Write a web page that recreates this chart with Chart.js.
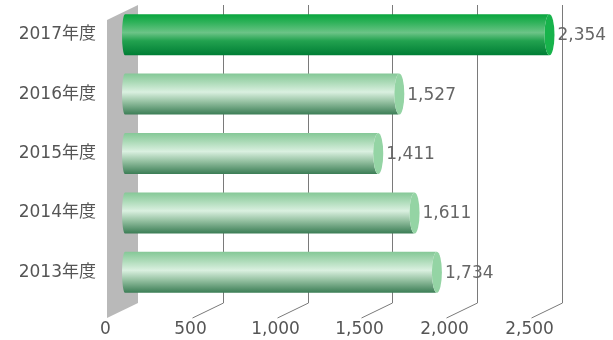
<!DOCTYPE html>
<html lang="ja">
<head>
<meta charset="UTF-8">
<title>年度別</title>
<style>
    body { margin: 0; background: #fff; }
</style>
<script src="https://cdn.jsdelivr.net/npm/chart.js"></script>
</head>
<body>
<canvas id="chart" width="613" height="340"></canvas>
<script>
    var categories = ["2017年度", "2016年度", "2015年度", "2014年度", "2013年度"];
    var values = [2354, 1527, 1411, 1611, 1734];
    var tickValues = [0, 500, 1000, 1500, 2000, 2500];
    var tickLabels = ["0", "500", "1,000", "1,500", "2,000", "2,500"];

    var FONT = "'DejaVu Sans', 'Noto Sans CJK JP', sans-serif";
    var wallBack = 138, depthX = 31, depthY = 15;

    function backX(scale, v) {
        return wallBack + (scale.getPixelForValue(v) - scale.left) * 0.934;
    }

    // wall + slanted grid lines, drawn under the bars
    var backdrop = {
        id: "backdrop",
        beforeDatasetsDraw(chart) {
            var ctx = chart.ctx, area = chart.chartArea, x = chart.scales.x;
            var top = area.top, bottom = area.bottom + 1;
            ctx.save();
            ctx.fillStyle = "#b9b9b9";
            ctx.beginPath();
            ctx.moveTo(wallBack - depthX, top + depthY);
            ctx.lineTo(wallBack, top);
            ctx.lineTo(wallBack, bottom);
            ctx.lineTo(wallBack - depthX, bottom + depthY);
            ctx.closePath();
            ctx.fill();

            ctx.strokeStyle = "#7a7a7a";
            ctx.lineWidth = 1;
            tickValues.forEach(function (v, i) {
                var bx = Math.round(backX(x, v)) + 0.5;
                if (i > 0) {
                    ctx.beginPath();
                    ctx.moveTo(bx, top);
                    ctx.lineTo(bx, bottom);
                    ctx.lineTo(bx - depthX, bottom + depthY);
                    ctx.stroke();
                }
                ctx.fillStyle = "#555";
                ctx.font = "17px " + FONT;
                ctx.textAlign = "center";
                ctx.textBaseline = "middle";
                ctx.fillText(tickLabels[i], bx - depthX - 2, bottom + depthY + 12);
            });
            ctx.restore();
        },
        afterDatasetsDraw(chart) {
            var ctx = chart.ctx;
            var meta = chart.getDatasetMeta(0);
            ctx.save();
            meta.data.forEach(function (bar, i) {
                var hot = i === 0;
                var t = bar.y - bar.height / 2, h = bar.height, b = t + h;
                var left = bar.base, right = bar.x;
                var g = ctx.createLinearGradient(0, t, 0, b);
                if (hot) {
                    g.addColorStop(0, "#08a53d");
                    g.addColorStop(0.2, "#2fb25a");
                    g.addColorStop(0.45, "#6cc487");
                    g.addColorStop(0.65, "#22a24f");
                    g.addColorStop(1, "#007e35");
                } else {
                    g.addColorStop(0, "#85c897");
                    g.addColorStop(0.2, "#a9d9b5");
                    g.addColorStop(0.45, "#daf0e0");
                    g.addColorStop(0.68, "#98c3a4");
                    g.addColorStop(1, "#3b7d55");
                }
                ctx.fillStyle = g;
                ctx.beginPath();
                ctx.ellipse(left + 3, bar.y, 3, h / 2, 0, Math.PI / 2, Math.PI * 1.5);
                ctx.lineTo(right, t);
                ctx.ellipse(right, bar.y, 5, h / 2, 0, -Math.PI / 2, Math.PI / 2, true);
                ctx.closePath();
                ctx.fill();

                ctx.fillStyle = hot ? "#17b34b" : "#94d4a4";
                ctx.beginPath();
                ctx.ellipse(right, bar.y, 5, h / 2, 0, 0, Math.PI * 2);
                ctx.fill();

                ctx.fillStyle = "#666";
                ctx.font = "17px " + FONT;
                ctx.textAlign = "left";
                ctx.textBaseline = "middle";
                ctx.fillText(values[i].toLocaleString("en-US"), right + 8, bar.y + 1);
            });
            ctx.restore();
        }
    };

    new Chart(document.getElementById("chart"), {
        type: "bar",
        data: {
            labels: categories,
            datasets: [{
                data: values,
                backgroundColor: "rgba(0,0,0,0)",
                categoryPercentage: 1,
                barPercentage: 0.69
            }]
        },
        options: {
            indexAxis: "y",
            responsive: false,
            animation: false,
            devicePixelRatio: 1,
            layout: { padding: { top: 5, right: 37, bottom: 38, left: 0 } },
            plugins: { legend: { display: false }, tooltip: { enabled: false } },
            scales: {
                x: { display: false, min: 0, max: 2500 },
                y: {
                    grid: { display: false },
                    border: { display: false },
                    afterFit: function (s) {
                        s.width = 122;
                        s.paddingTop = 0;
                        s.paddingBottom = 0;
                    },
                    ticks: { padding: 18, color: "#555", font: { size: 17, family: FONT } }
                }
            }
        },
        plugins: [backdrop]
    });
</script>
</body>
</html>
